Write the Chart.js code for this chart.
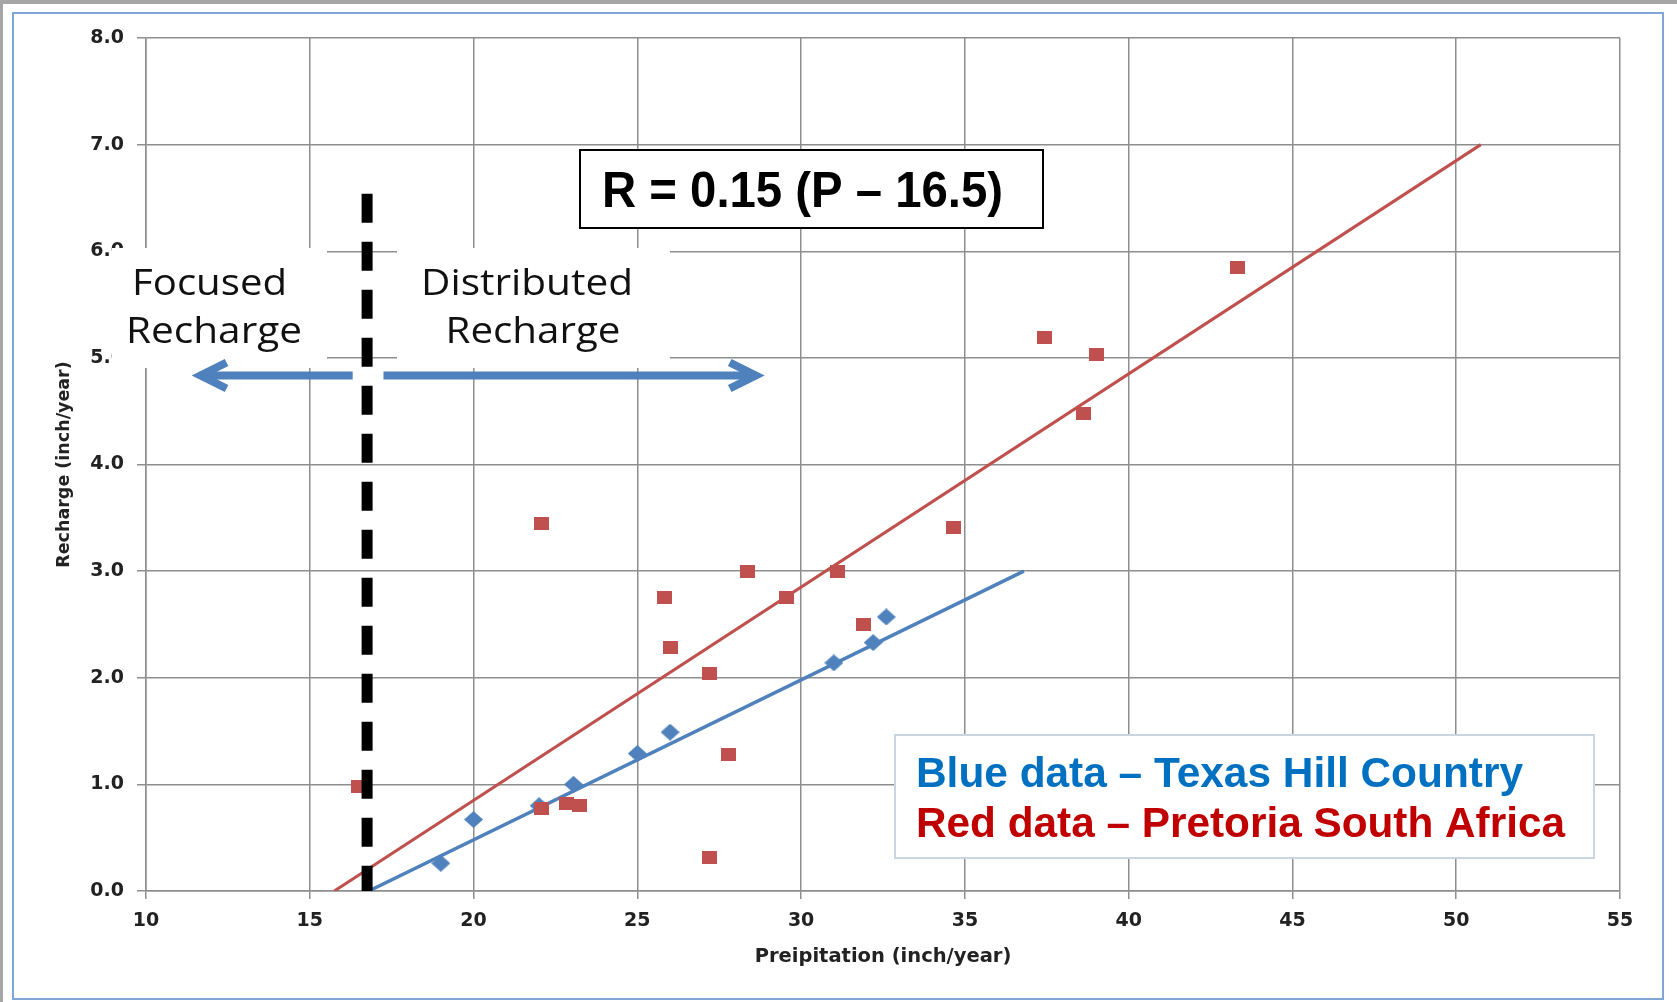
<!DOCTYPE html>
<html>
<head>
<meta charset="utf-8">
<script src="https://cdn.jsdelivr.net/npm/chart.js@4.4.0/dist/chart.umd.min.js"></script>
<style>
  html, body { margin: 0; padding: 0; background: #fff; }
  #page { position: relative; width: 1677px; height: 1002px; overflow: hidden; background: #fff; }
  #grayTop { position: absolute; left: 0; top: 0; width: 1677px; height: 4px; background: #a6a6a6; }
  #grayLeft { position: absolute; left: 0; top: 0; width: 3px; height: 1002px; background: #a6a6a6; }
  #frame { position: absolute; left: 12px; top: 12px; width: 1652px; height: 988px;
           border: 2px solid #7fa6d6; box-sizing: border-box; }
  canvas { position: absolute; left: 0; top: 0; }
</style>
</head>
<body>
<div id="page">
  <div id="grayTop"></div>
  <div id="grayLeft"></div>
  <div id="frame"></div>
  <canvas id="chart" width="1677" height="1002"></canvas>
</div>
<script>
// axis ticks
var xTicks = [10, 15, 20, 25, 30, 35, 40, 45, 50, 55];
var yTickLabels = ['0.0', '1.0', '2.0', '3.0', '4.0', '5.0', '6.0', '7.0', '8.0'];

// blue data - Texas Hill Country (precip, recharge)
var texasP = [19.0, 20.0, 22.0, 23.05, 25.0, 26.0, 31.0, 32.2, 32.6];
var texasR = [0.26, 0.67, 0.80, 1.00, 1.29, 1.49, 2.14, 2.33, 2.57];

// red data - Pretoria South Africa
var pretoriaP = [16.5, 22.07, 22.07, 22.84, 23.23, 25.83, 26.0, 27.19, 27.19, 27.78,
                 28.37, 29.56, 31.11, 31.9, 34.65, 37.44, 38.62, 39.02, 43.31];
var pretoriaR = [0.98, 3.45, 0.77, 0.82, 0.80, 2.75, 2.28, 2.04, 0.31, 1.28,
                 3.00, 2.75, 3.00, 2.50, 3.41, 5.19, 4.48, 5.03, 5.85];

// fitted lines, end points
var texasFitP = [16.8, 36.8];
var texasFitR = [0.0, 3.0];
var pretoriaFitP = [15.75, 50.75];
var pretoriaFitR = [0.0, 7.0];

// focused / distributed divide
var divideP = [16.75, 16.75];
var divideR = [6.54, 0.0];

// arrows (precip from -> to, at recharge level)
var arrowLeftP = [16.31, 11.36];
var arrowRightP = [17.25, 28.92];
var arrowR = 4.835;

var equationText = 'R = 0.15 (P \u2013 16.5)';
var legendBlue = 'Blue data \u2013 Texas Hill Country';
var legendRed = 'Red data \u2013 Pretoria South Africa';

function pairs(xs, ys) {
    return xs.map(function (x, i) { return {x: x, y: ys[i]}; });
}

function markerCanvas(w, h, color, shape) {
    var c = document.createElement('canvas');
    c.width = w; c.height = h;
    var g = c.getContext('2d');
    g.fillStyle = color;
    if (shape == 'diamond') {
        g.beginPath();
        g.moveTo(w / 2, 0); g.lineTo(w, h / 2); g.lineTo(w / 2, h); g.lineTo(0, h / 2);
        g.closePath(); g.fill();
    } else {
        g.fillRect(0, 0, w, h);
    }
    return c;
}

// draws text squeezed/stretched to a given width, centred on cx
function fitText(ctx, text, cx, y, w, font, color) {
    ctx.save();
    ctx.font = font;
    ctx.fillStyle = color;
    ctx.textAlign = 'center';
    ctx.textBaseline = 'alphabetic';
    var m = ctx.measureText(text).width;
    ctx.translate(cx, y);
    ctx.scale(w / m, 1);
    ctx.fillText(text, 0, 0);
    ctx.restore();
}

function arrow(ctx, x0, x1, y) {
    var dir = x1 > x0 ? 1 : -1;
    var vx = x1 - dir * 10;
    ctx.beginPath(); ctx.moveTo(x0, y); ctx.lineTo(vx, y); ctx.stroke();
    ctx.beginPath();
    ctx.moveTo(vx - dir * 26, y - 13); ctx.lineTo(vx, y); ctx.lineTo(vx - dir * 26, y + 13);
    ctx.stroke();
}

var overlay = {
    id: 'overlay',
    beforeDatasetsDraw: function (chart) {
        var ctx = chart.ctx;
        ctx.save();
        ctx.fillStyle = '#fff';
        ctx.fillRect(112, 248, 215, 120);
        ctx.fillRect(397, 248, 273, 120);
        ctx.restore();
    },
    afterDatasetsDraw: function (chart) {
        var ctx = chart.ctx;
        var xs = chart.scales.x, ys = chart.scales.y;

        // region labels
        var f = '36px "Open Sans"';
        fitText(ctx, 'Focused', 209.5, 295, 155, f, '#111');
        fitText(ctx, 'Recharge', 214, 343, 176, f, '#111');
        fitText(ctx, 'Distributed', 527, 295, 212, f, '#111');
        fitText(ctx, 'Recharge', 533, 343, 175, f, '#111');

        // arrows
        ctx.save();
        ctx.strokeStyle = '#4f81bd';
        ctx.lineWidth = 8;
        ctx.lineCap = 'butt';
        ctx.lineJoin = 'miter';
        var ay = ys.getPixelForValue(arrowR);
        arrow(ctx, xs.getPixelForValue(arrowLeftP[0]), xs.getPixelForValue(arrowLeftP[1]), ay);
        arrow(ctx, xs.getPixelForValue(arrowRightP[0]), xs.getPixelForValue(arrowRightP[1]), ay);
        ctx.restore();

        // equation box
        ctx.save();
        ctx.fillStyle = '#fff';
        ctx.fillRect(580, 150, 463, 78);
        ctx.strokeStyle = '#000';
        ctx.lineWidth = 2;
        ctx.strokeRect(580, 150, 463, 78);
        ctx.restore();
        fitText(ctx, equationText, 802.5, 207, 401, 'bold 50px "Liberation Sans"', '#000');

        // legend box
        ctx.save();
        ctx.fillStyle = '#fff';
        ctx.fillRect(895, 735, 699, 123);
        ctx.strokeStyle = '#c9d5e0';
        ctx.lineWidth = 2;
        ctx.strokeRect(895, 735, 699, 123);
        ctx.restore();
        fitText(ctx, legendBlue, 1219.5, 787, 607, 'bold 42px "Liberation Sans"', '#0070c0');
        fitText(ctx, legendRed, 1240.5, 837, 649, 'bold 42px "Liberation Sans"', '#c00000');
    }
};

var axisColor = '#8e8e8e';
var tickFont = {family: '"DejaVu Sans"', size: 19, weight: 'bold'};

new Chart(document.getElementById('chart'), {
    type: 'scatter',
    data: {
        datasets: [{
            label: 'divide',
            type: 'line',
            data: pairs(divideP, divideR),
            borderColor: '#000',
            borderWidth: 11,
            borderDash: [29, 19],
            borderCapStyle: 'butt',
            pointRadius: 0,
            order: 0
        }, {
            label: 'Pretoria South Africa',
            data: pairs(pretoriaP, pretoriaR),
            pointStyle: markerCanvas(15, 13, '#c0504d', 'square'),
            pointRadius: 8,
            order: 1
        }, {
            label: 'Texas Hill Country',
            data: pairs(texasP, texasR),
            pointStyle: markerCanvas(19, 17, '#4f81bd', 'diamond'),
            pointRadius: 8,
            order: 2
        }, {
            label: 'Pretoria fit',
            type: 'line',
            data: pairs(pretoriaFitP, pretoriaFitR),
            borderColor: '#c0504d',
            borderWidth: 3,
            pointRadius: 0,
            order: 3
        }, {
            label: 'Texas fit',
            type: 'line',
            data: pairs(texasFitP, texasFitR),
            borderColor: '#4f81bd',
            borderWidth: 3.5,
            pointRadius: 0,
            order: 4
        }]
    },
    options: {
        responsive: false,
        animation: false,
        devicePixelRatio: 1,
        layout: {padding: {left: 0, top: 38, right: 57, bottom: 0}},
        plugins: {legend: {display: false}, tooltip: {enabled: false}},
        scales: {
            x: {
                type: 'linear',
                min: xTicks[0],
                max: xTicks[xTicks.length - 1],
                afterBuildTicks: function (s) { s.ticks = xTicks.map(function (v) { return {value: v}; }); },
                ticks: {font: tickFont, color: '#222', padding: 11, maxRotation: 0, autoSkip: false,
                        callback: function (v) { return String(v); }},
                grid: {color: axisColor, lineWidth: 1.5, tickLength: 8},
                border: {color: axisColor, width: 1.5},
                title: {display: true, text: 'Preipitation (inch/year)', color: '#222',
                        font: {family: '"DejaVu Sans"', size: 19.5, weight: 'bold'},
                        padding: {top: 0, bottom: 33}},
                afterFit: function (s) { s.height = 111; }
            },
            y: {
                type: 'linear',
                min: 0,
                max: 8,
                ticks: {font: tickFont, color: '#222', padding: 13, stepSize: 1,
                        callback: function (v) { return yTickLabels[Math.round(v)]; }},
                grid: {color: axisColor, lineWidth: 1.5, tickLength: 9},
                border: {color: axisColor, width: 1.5},
                title: {display: true, text: 'Recharge (inch/year)', color: '#222',
                        font: {family: '"DejaVu Sans"', size: 17.5, weight: 'bold'},
                        padding: {top: 54, bottom: 0}},
                afterFit: function (s) { s.width = 146; }
            }
        }
    },
    plugins: [overlay]
});
</script>
</body>
</html>
